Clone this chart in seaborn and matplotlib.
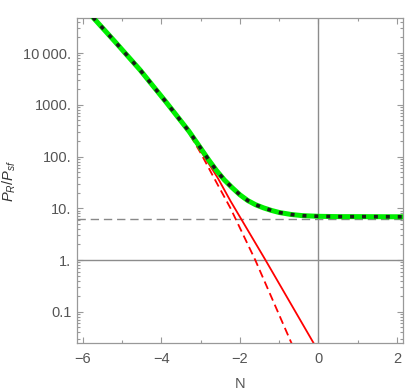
import numpy as np
import pandas as pd
import matplotlib
matplotlib.use("Agg")
import matplotlib.pyplot as plt
import matplotlib.ticker as mticker
import seaborn as sns

# values (N, P_R/P_sf)
n_full = [-6.2, -5.72, -5.17, -4.54, -3.89, -3.6, -3.3, -3.0, -2.8, -2.6, -2.4,
          -2.2, -2.0, -1.8, -1.6, -1.4, -1.2, -1.0, -0.7, -0.4, 0.0, 0.5, 1.0, 2.2]
p_full = [126000, 46800, 16200, 4680, 1150, 603, 309, 145, 87, 54, 35.5,
          25.1, 18.2, 14.1, 11.7, 10.2, 9.1, 8.3, 7.6, 7.2, 7.0, 6.9, 6.9, 6.85]

# approximation (solid red)
n_approx = [-6.2, -5.72, -5.17, -4.54, -3.89, -3.6, -3.3, -3.0, -2.56, -2.24, -1.35, -0.12, 0.0]
p_approx = [126000, 46800, 16200, 4680, 1141, 590, 292, 129, 38, 13.8, 1.0, 0.0245, 0.017]

# second approximation (dashed red)
n_approx2 = [-6.2, -5.72, -5.17, -4.54, -3.89, -3.6, -3.3, -3.0, -2.63, -2.24, -1.61, -0.70, -0.6]
p_approx2 = [126000, 46800, 16200, 4680, 1141, 588, 285, 117, 35, 10, 1.0, 0.026, 0.018]

p_level = 6.15

ytick_vals = [0.1, 1, 10, 100, 1000, 10000]
ytick_labels = ["0.1", "1.", "10.", "100.", "1000.", "10\u2009000."]
xtick_vals = [-6, -4, -2, 0, 2]
xtick_labels = ["\u22126", "\u22124", "\u22122", "0", "2"]

sns.set_theme(style="white")
plt.rcParams['font.family'] = ['Liberation Sans', 'DejaVu Sans']
plt.rcParams['mathtext.fontset'] = 'custom'
plt.rcParams['mathtext.it'] = 'Liberation Sans:italic'
plt.rcParams['mathtext.rm'] = 'Liberation Sans'

gray_txt = '#555555'
gray_ln = '#8c8c8c'

fig = plt.figure(figsize=(4.08, 3.91), dpi=100)
ax = fig.add_axes([0.1887, 0.122, 0.7998, 0.831])

# axes lines and reference level
ax.axhline(1, color=gray_ln, lw=1.0, zorder=1)
ax.axvline(0, color=gray_ln, lw=1.0, zorder=1)
ax.axhline(p_level, color='#888888', lw=1.0, ls=(0, (6, 3.5)), zorder=1)

df_full = pd.DataFrame({'N': n_full, 'P': p_full})
df_a = pd.DataFrame({'N': n_approx, 'P': p_approx})
df_b = pd.DataFrame({'N': n_approx2, 'P': p_approx2})

sns.lineplot(data=df_a, x='N', y='P', ax=ax, color='#ff0000', lw=1.3, sort=False, zorder=2)
sns.lineplot(data=df_b, x='N', y='P', ax=ax, color='#ff0000', lw=1.3, sort=False,
             linestyle=(0, (4.5, 2.5)), zorder=2)
sns.lineplot(data=df_full, x='N', y='P', ax=ax, color='#00ee00', lw=3.6, sort=False, zorder=3)
sns.lineplot(data=df_full, x='N', y='P', ax=ax, color='#1a1a1a', lw=2.6, sort=False,
             linestyle=(0, (1.1, 2.2)), zorder=4)

ax.set_yscale('log')
ax.set_xlim(-6.15, 2.16)
ax.set_ylim(0.0246, 46800)

ax.set_yticks(ytick_vals)
ax.set_yticklabels(ytick_labels)
ax.yaxis.set_minor_locator(mticker.LogLocator(base=10, subs=np.arange(2, 10), numticks=20))
ax.yaxis.set_minor_formatter(mticker.NullFormatter())
ax.set_xticks(xtick_vals)
ax.set_xticklabels(xtick_labels)
ax.xaxis.set_minor_locator(mticker.MultipleLocator(1))

ax.tick_params(which='both', direction='in', top=True, right=True, left=True, bottom=True,
               color='#999999', width=0.8, labelcolor=gray_txt, labelsize=10.5)
ax.tick_params(which='major', length=4, pad=4)
ax.tick_params(axis='x', which='major', pad=6)
ax.tick_params(which='minor', length=2.2)

for s in ax.spines.values():
    s.set_color('#999999')
    s.set_linewidth(0.9)

ax.set_xlabel("N", color=gray_txt, fontsize=10.5, labelpad=8)
ax.set_ylabel(r"$P_R/P_{sf}$", color='#333333', fontsize=10.5, labelpad=4)

fig.savefig("out.png", dpi=100)
